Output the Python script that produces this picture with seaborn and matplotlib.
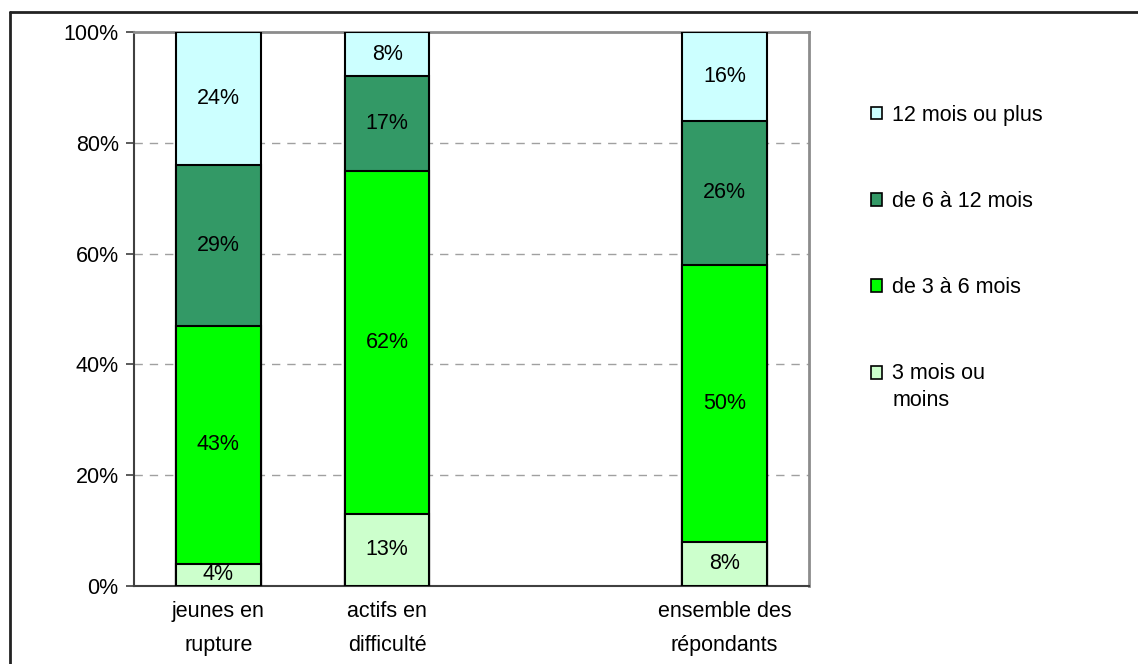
import matplotlib
matplotlib.use("Agg")
import numpy as np
import pandas as pd
import matplotlib.pyplot as plt
import seaborn as sns
from matplotlib.lines import Line2D
from matplotlib.patches import Patch, Rectangle
from matplotlib.legend_handler import HandlerPatch

# %% data
categories = ["jeunes en\nrupture", "actifs en\ndifficulté", " ", "ensemble des\nrépondants"]
groups = ["jeunes en\nrupture", "actifs en\ndifficulté", "ensemble des\nrépondants"]
series = ["3 mois ou\nmoins", "de 3 à 6 mois", "de 6 à 12 mois", "12 mois ou plus"]
moins_3 = [4, 13, 8]
de_3_a_6 = [43, 62, 50]
de_6_a_12 = [29, 17, 26]
plus_12 = [24, 8, 16]
colors = ["#CCFFCC", "#00FF00", "#339966", "#CCFFFF"]

values = [moins_3, de_3_a_6, de_6_a_12, plus_12]
df = pd.DataFrame({s: v for s, v in zip(series, values)}, index=groups)
cum = df.cumsum(axis=1)

# %% figure
sns.set_style("white")
plt.rcParams["font.family"] = ["Liberation Sans", "DejaVu Sans"]
plt.rcParams["text.color"] = "black"
plt.rcParams["xtick.color"] = "black"
plt.rcParams["ytick.color"] = "black"
FS = 15.5

fig = plt.figure(figsize=(11.38, 6.64), dpi=100)
ax = fig.add_axes([134 / 1138, 78 / 664, 675 / 1138, 554 / 664])

# draw from top of stack down so lower segments overlay
for s, c in reversed(list(zip(series, colors))):
    d = pd.DataFrame({"cat": groups, "val": cum[s].values})
    sns.barplot(data=d, x="cat", y="val", order=categories, color=c,
                width=0.5, edgecolor="black", linewidth=1.5,
                saturation=1, ax=ax, zorder=3)

# segment labels
for g in groups:
    xi = categories.index(g)
    low = 0
    for s in series:
        v = df.loc[g, s]
        ax.text(xi, low + v / 2, f"{v}%", ha="center", va="center",
                fontsize=FS, color="black", zorder=5)
        low += v

ax.set_ylim(0, 100)
ax.set_xlim(-0.5, 3.5)
ax.set_yticks([0, 20, 40, 60, 80, 100])
ax.set_yticklabels([f"{t}%" for t in [0, 20, 40, 60, 80, 100]], fontsize=FS)
ax.set_xticklabels(categories, fontsize=FS, linespacing=1.8)
ax.set_xlabel("")
ax.set_ylabel("")
ax.tick_params(axis="x", length=0, pad=11)
ax.set_xticks([-0.5, 0.5, 1.5, 2.5, 3.5], minor=True)
ax.tick_params(axis="x", which="minor", length=6, color="#404040", width=1.2)
ax.tick_params(axis="y", length=6, color="#404040", width=1.2, pad=5, left=True)

for y in [20, 40, 60, 80]:
    ax.axhline(y, color="#A0A0A0", linestyle=(0, (6, 5)), linewidth=1, zorder=1)

for side in ["left", "bottom"]:
    ax.spines[side].set_color("#404040")
    ax.spines[side].set_linewidth(1.5)
for side in ["top", "right"]:
    ax.spines[side].set_visible(True)
    ax.spines[side].set_color("#8C8C8C")
    ax.spines[side].set_linewidth(2)


# legend box for the two-line label sits on its first line
def top_square(legend, orig_handle, xdescent, ydescent, width, height, fontsize):
    return Rectangle((-xdescent, -ydescent + 11), width, height)


handles = [Patch(facecolor=c, edgecolor="black", linewidth=1.2) for c in colors]
leg = fig.legend(handles[::-1], series[::-1], loc="upper left",
                 bbox_to_anchor=(862 / 1138, 1 - 96 / 664),
                 frameon=False, fontsize=FS, handlelength=0.55, handleheight=0.55,
                 handletextpad=0.45, labelspacing=3.03, borderaxespad=0,
                 handler_map={handles[0]: HandlerPatch(patch_func=top_square)})
leg.get_texts()[-1].set_linespacing(1.35)

# outer chart border
fig.add_artist(Line2D([10 / 1138, 1.0], [1 - 12 / 664] * 2, color="#222222", linewidth=2))
fig.add_artist(Line2D([10 / 1138] * 2, [0, 1 - 12 / 664], color="#222222", linewidth=2))

fig.savefig("out.png", dpi=100)
